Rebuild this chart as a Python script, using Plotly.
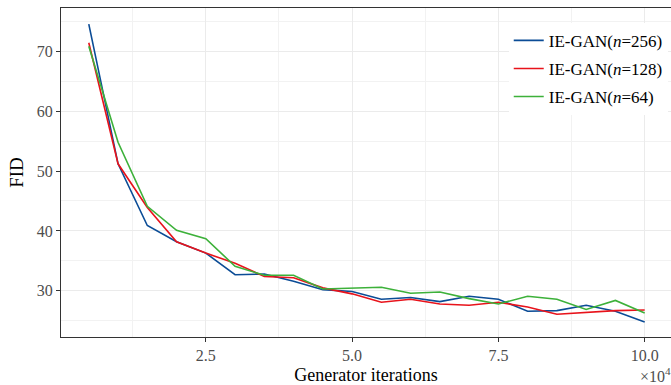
import plotly.graph_objects as go

iterations = [5000, 10000, 15000, 20000, 25000, 30000, 35000, 40000, 45000, 50000,
              55000, 60000, 65000, 70000, 75000, 80000, 85000, 90000, 95000, 100000]
fid_256 = [74.5, 51.2, 40.9, 38.2, 36.3, 32.7, 32.8, 31.6, 30.2, 29.9,
           28.6, 28.9, 28.2, 29.1, 28.6, 26.6, 26.7, 27.6, 26.6, 24.8]
fid_128 = [71.4, 51.2, 43.9, 38.2, 36.3, 34.6, 32.4, 32.2, 30.5, 29.5,
           28.1, 28.6, 27.8, 27.6, 28.1, 27.3, 26.1, 26.4, 26.7, 26.8]
fid_64 = [70.8, 54.8, 44.1, 40.1, 38.7, 34.1, 32.6, 32.6, 30.3, 30.4,
          30.6, 29.6, 29.8, 28.7, 27.8, 29.1, 28.6, 26.9, 28.4, 26.3]
series_names = ["IE-GAN(<i>n</i>=256)", "IE-GAN(<i>n</i>=128)", "IE-GAN(<i>n</i>=64)"]
colors = ["#0B4C96", "#E8131B", "#3DB13A"]
x_tickvals = [2.5, 5.0, 7.5, 10.0]
x_ticktext = ["2.5", "5.0", "7.5", "10.0"]
y_tickvals = [30, 40, 50, 60, 70]

FONT = "Liberation Serif, Times New Roman, serif"
x_scaled = [v / 1e4 for v in iterations]

fig = go.Figure()
for i, (name, ys, c) in enumerate(zip(series_names, [fid_256, fid_128, fid_64], colors)):
    fig.add_trace(go.Scatter(x=x_scaled, y=ys, mode="lines", name=name,
                             legendgroup="g%d" % i,
                             line=dict(color=c, width=1.6)))

fig.update_layout(
    width=671, height=385,
    margin=dict(l=61, r=0, t=8, b=46),
    paper_bgcolor="white", plot_bgcolor="white",
    font=dict(family=FONT, color="black"),
    showlegend=True,
    legend=dict(x=0.734, y=0.955, xanchor="left", yanchor="top",
                bgcolor="white", borderwidth=0,
                font=dict(family=FONT, size=17, color="black"),
                tracegroupgap=3),
)
fig.update_xaxes(
    range=[0.025, 10.45], tickvals=x_tickvals, ticktext=x_ticktext,
    showgrid=True, gridcolor="#EBEBEB", gridwidth=1.1,
    minor=dict(dtick=2.5, tick0=1.25, showgrid=True, gridcolor="#F2F2F2", gridwidth=0.6),
    showline=True, linecolor="#333333", linewidth=1.3, mirror=True,
    ticks="outside", ticklen=4, tickcolor="#333333",
    tickfont=dict(family=FONT, size=16, color="#4D4D4D"),
    title=dict(text="Generator iterations", font=dict(family=FONT, size=18, color="black"), standoff=8),
    zeroline=False,
)
fig.update_yaxes(
    range=[22.3, 77.2], tickvals=y_tickvals,
    showgrid=True, gridcolor="#EBEBEB", gridwidth=1.1,
    minor=dict(dtick=10, tick0=25, showgrid=True, gridcolor="#F2F2F2", gridwidth=0.6),
    showline=True, linecolor="#333333", linewidth=1.3, mirror=False,
    ticks="outside", ticklen=4, tickcolor="#333333",
    tickfont=dict(family=FONT, size=16, color="#4D4D4D"),
    title=dict(text="FID", font=dict(family=FONT, size=19, color="black"), standoff=8),
    zeroline=False,
)

fig.add_annotation(text="×10<sup>4</sup>", xref="paper", yref="paper", x=0.946, y=0,
                   xanchor="left", yanchor="middle", yshift=-38, showarrow=False,
                   font=dict(family=FONT, size=16, color="#4D4D4D"))

fig.write_html("out.html", config={"displayModeBar": False},
               post_script="document.body.style.margin='0';document.body.style.overflow='hidden';")
